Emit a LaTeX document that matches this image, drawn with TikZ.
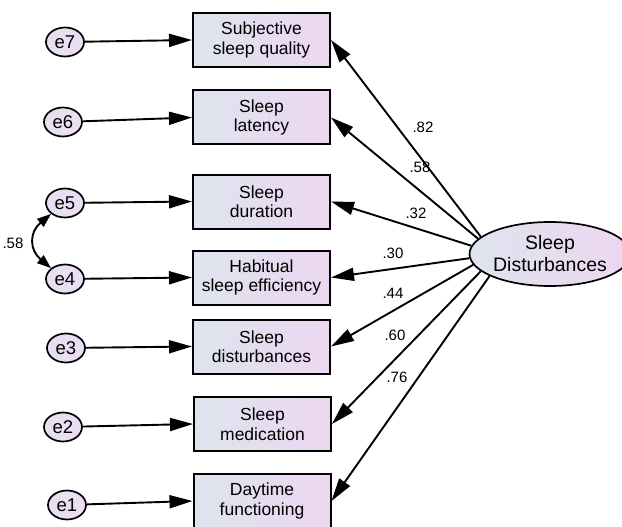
\documentclass[tikz,border=0pt]{standalone}
\usepackage{fontspec}
\setmainfont{Liberation Sans}
\usetikzlibrary{arrows.meta,shapes.geometric}
\definecolor{boxL}{RGB}{222,228,238}
\definecolor{boxR}{RGB}{237,214,241}
\definecolor{errF}{RGB}{236,221,243}
\tikzset{
  obs/.style={draw=black, line width=2pt, rectangle, minimum width=137pt, minimum height=54pt,
    inner sep=0pt, align=center, left color=boxL, right color=boxR, font=\fontsize{17.5}{19.5}\selectfont},
  err/.style={draw=black, line width=1.7pt, ellipse, minimum width=38pt, minimum height=29pt,
    inner sep=0pt, left color=boxL!40!errF, right color=errF, font=\fontsize{18.5}{20}\selectfont},
  lat/.style={draw=black, line width=1.7pt, ellipse, minimum width=142pt, minimum height=64pt,
    inner sep=0pt, align=center, left color=boxL, right color=boxR, font=\fontsize{19.5}{22}\selectfont},
  path/.style={line width=1.9pt, -{Triangle[length=23pt,width=13pt]}},
  cov/.style={line width=1.9pt, {Triangle[length=14pt,width=10pt]}-{Triangle[length=14pt,width=10pt]}},
  coef/.style={font=\fontsize{15}{17}\selectfont, inner sep=0pt}
}
\begin{document}
\begin{tikzpicture}[x=1pt,y=-1pt]
\useasboundingbox (0,0) rectangle (622,527);
% observed
\node[obs] (b1) at (261.5,40) {Subjective\\sleep quality};
\node[obs] (b2) at (261.5,117.5) {Sleep\\latency};
\node[obs] (b3) at (261.5,201.5) {Sleep\\duration};
\node[obs] (b4) at (261.5,277.5) {Habitual\\sleep efficiency};
\node[obs] (b5) at (261.5,346.5) {Sleep\\disturbances};
\node[obs] (b6) at (262.5,424) {Sleep\\medication};
\node[obs] (b7) at (262,501) {Daytime\\functioning};
% errors
\node[err] (e7) at (65,42) {e7};
\node[err] (e6) at (63,122) {e6};
\node[err] (e5) at (65,203) {e5};
\node[err] (e4) at (65,279) {e4};
\node[err] (e3) at (66,348) {e3};
\node[err] (e2) at (63,427) {e2};
\node[err] (e1) at (67,505) {e1};
% latent
\node[lat] (sd) at (550,254) {Sleep\\Disturbances};
% error paths
\draw[path] (e7) -- (b1.west);
\draw[path] (e6) -- (b2.west);
\draw[path] (e5) -- (b3.west);
\draw[path] (e4) -- (b4.west);
\draw[path] (e3) -- (b5.west);
\draw[path] (e2) -- (b6.west);
\draw[path] (e1) -- (b7.west);
% covariance
\draw[cov] (e5.218) to[out=220,in=140,looseness=1.35] (e4.142);
\node[coef] (c54) at (13,243) {.58};
% loadings
\draw[path] (sd.166) -- (b1.east);
\draw[path] (sd.168) -- (b2.east);
\draw[path] (sd.174) -- (b3.east);
\draw[path] (sd.183) -- (b4.east);
\draw[path] (sd.188) -- (b5.east);
\draw[path] (sd.194) -- (b6.east);
\draw[path] (sd.200) -- (b7.east);
\node[coef] (l1) at (423,127) {.82};
\node[coef] (l2) at (420,167) {.58};
\node[coef] (l3) at (416,213) {.32};
\node[coef] (l4) at (393,253) {.30};
\node[coef] (l5) at (393,293) {.44};
\node[coef] (l6) at (395,335) {.60};
\node[coef] (l7) at (397,377) {.76};
\end{tikzpicture}
\end{document}
